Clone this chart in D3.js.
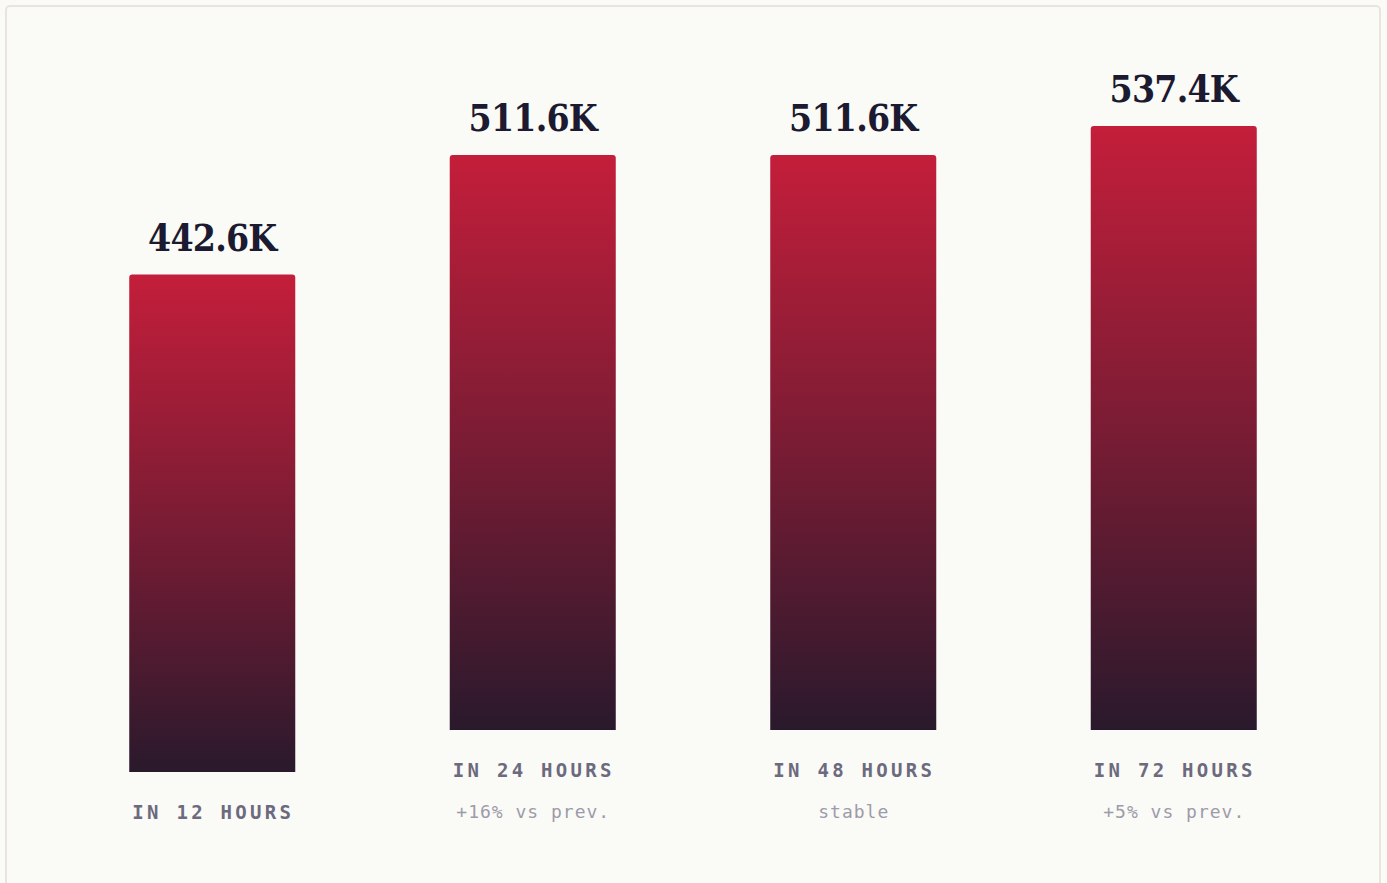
<!DOCTYPE html>
<html>
<head>
<meta charset="utf-8">
<script src="https://cdn.jsdelivr.net/npm/d3@7"></script>
<style>
  html, body { margin: 0; padding: 0; background: #fafaf6; }
  svg { display: block; }
  .value { font-family: "DejaVu Serif Condensed", "DejaVu Serif", serif; font-stretch: condensed; font-weight: bold; fill: #1b1a30; letter-spacing: -0.8px; }
  .label { font-family: "DejaVu Sans Mono", monospace; fill: #6c6a7e; letter-spacing: 3.3px; font-weight: 600; }
  .sub { font-family: "DejaVu Sans Mono", monospace; fill: #9d9baa; letter-spacing: 1px; }
</style>
</head>
<body>
<div id="chart"></div>
<script>
// values in thousands
var categories = ["IN 12 HOURS", "IN 24 HOURS", "IN 48 HOURS", "IN 72 HOURS"];
var values = [442.6, 511.6, 511.6, 537.4];
var subLabels = ["", "+16% vs prev.", "stable", "+5% vs prev."];

var width = 1387, height = 883;

var svg = d3.select("#chart")
    .append("svg")
    .attr("width", width)
    .attr("height", height);

// card outline
svg.append("rect")
    .attr("x", 6).attr("y", 6)
    .attr("width", 1374).attr("height", 900)
    .attr("rx", 4)
    .style("fill", "#fafaf6")
    .style("stroke", "#e9e5dc")
    .style("stroke-width", 2);

// gradient, crimson at the top fading to a dark plum
var grad = svg.append("defs").append("linearGradient")
    .attr("id", "barGrad")
    .attr("x1", 0).attr("y1", 0).attr("x2", 0).attr("y2", 1);
grad.append("stop").attr("offset", "0%").attr("stop-color", "#c41e3a");
grad.append("stop").attr("offset", "50%").attr("stop-color", "#7a1c34");
grad.append("stop").attr("offset", "100%").attr("stop-color", "#2a192c");

var x = d3.scaleBand()
    .domain(categories)
    .range([52, 1334])
    .paddingInner(0.482)
    .paddingOuter(0.241);

var h = d3.scaleLinear()
    .domain([0, d3.max(values)])
    .range([0, 604]);

// columns without a sub label sit lower (bottom aligned stack)
function base(i) { return subLabels[i] ? 730 : 772; }

var data = categories.map(function(c, i) {
  return {cat: c, value: values[i], sub: subLabels[i], i: i};
});

var col = svg.selectAll(".col")
    .data(data)
    .enter().append("g")
    .attr("class", "col");

col.append("path")
    .attr("d", function(d) {
      var x0 = x(d.cat), w = x.bandwidth();
      var y1 = base(d.i), y0 = y1 - h(d.value), r = 3;
      return "M" + x0 + "," + y1 +
        "V" + (y0 + r) +
        "Q" + x0 + "," + y0 + " " + (x0 + r) + "," + y0 +
        "H" + (x0 + w - r) +
        "Q" + (x0 + w) + "," + y0 + " " + (x0 + w) + "," + (y0 + r) +
        "V" + y1 + "Z";
    })
    .style("fill", "url(#barGrad)");

col.append("text")
    .attr("class", "value")
    .attr("x", function(d) { return x(d.cat) + x.bandwidth() / 2; })
    .attr("y", function(d) { return base(d.i) - h(d.value) - 24; })
    .attr("text-anchor", "middle")
    .style("font-size", "37px")
    .text(function(d) { return d.value.toFixed(1) + "K"; });

col.append("text")
    .attr("class", "label")
    .attr("x", function(d) { return x(d.cat) + x.bandwidth() / 2 + 1; })
    .attr("y", function(d) { return base(d.i) + 47; })
    .attr("text-anchor", "middle")
    .style("font-size", "19px")
    .text(function(d) { return d.cat; });

col.filter(function(d) { return d.sub; })
    .append("text")
    .attr("class", "sub")
    .attr("x", function(d) { return x(d.cat) + x.bandwidth() / 2 + 0.5; })
    .attr("y", function(d) { return base(d.i) + 88; })
    .attr("text-anchor", "middle")
    .style("font-size", "18px")
    .text(function(d) { return d.sub; });
</script>
</body>
</html>
